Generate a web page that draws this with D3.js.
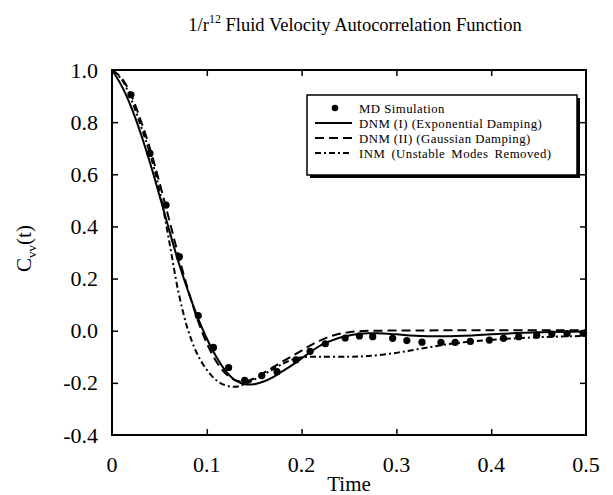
<!DOCTYPE html>
<html>
<head>
<meta charset="utf-8">
<script src="https://cdn.jsdelivr.net/npm/d3@7"></script>
<style>
  html, body { margin: 0; padding: 0; background: #fff; }
  svg { display: block; font-family: "Liberation Serif", "Times New Roman", serif; }
</style>
</head>
<body>
<svg id="chart" width="613" height="495"></svg>
<script>
// ---- data ----
const mdTime = [0, 0.020, 0.040, 0.057, 0.071, 0.091, 0.107, 0.123, 0.140, 0.158, 0.174, 0.194, 0.209, 0.225, 0.246, 0.261, 0.275, 0.296, 0.311, 0.327, 0.347, 0.362, 0.378, 0.398, 0.413, 0.429, 0.448, 0.464, 0.480, 0.497];
const mdValue = [1.0, 0.905, 0.68, 0.482, 0.284, 0.058, -0.064, -0.141, -0.19, -0.172, -0.157, -0.112, -0.079, -0.05, -0.028, -0.02, -0.023, -0.029, -0.038, -0.044, -0.045, -0.045, -0.041, -0.036, -0.029, -0.023, -0.017, -0.013, -0.011, -0.01];

const dnm1Time = [0, 0.01, 0.02, 0.03, 0.04, 0.05, 0.06, 0.07, 0.08, 0.09, 0.10, 0.11, 0.12, 0.13, 0.14, 0.15, 0.16, 0.17, 0.18, 0.19, 0.20, 0.21, 0.22, 0.23, 0.24, 0.25, 0.26, 0.27, 0.28, 0.30, 0.32, 0.35, 0.38, 0.41, 0.45, 0.50];
const dnm1Value = [1.0, 0.94, 0.86, 0.76, 0.645, 0.52, 0.39, 0.265, 0.155, 0.055, -0.03, -0.10, -0.155, -0.19, -0.205, -0.205, -0.195, -0.178, -0.155, -0.132, -0.106, -0.08, -0.056, -0.04, -0.027, -0.018, -0.013, -0.01, -0.01, -0.014, -0.019, -0.021, -0.018, -0.012, -0.006, -0.003];

const dnm2Time = [0, 0.01, 0.02, 0.03, 0.04, 0.05, 0.06, 0.07, 0.08, 0.09, 0.10, 0.11, 0.12, 0.13, 0.14, 0.15, 0.16, 0.17, 0.18, 0.19, 0.20, 0.21, 0.22, 0.23, 0.24, 0.25, 0.26, 0.28, 0.32, 0.40, 0.50];
const dnm2Value = [1.0, 0.97, 0.905, 0.81, 0.70, 0.57, 0.43, 0.29, 0.16, 0.045, -0.048, -0.118, -0.165, -0.19, -0.195, -0.183, -0.162, -0.14, -0.118, -0.097, -0.076, -0.055, -0.037, -0.022, -0.012, -0.006, -0.002, 0.0, 0.001, 0.002, 0.002];

const inmTime = [0, 0.01, 0.02, 0.03, 0.04, 0.05, 0.06, 0.07, 0.08, 0.09, 0.10, 0.11, 0.12, 0.13, 0.14, 0.15, 0.16, 0.17, 0.18, 0.19, 0.20, 0.22, 0.25, 0.27, 0.30, 0.33, 0.36, 0.40, 0.45, 0.50];
const inmValue = [1.0, 0.965, 0.89, 0.79, 0.68, 0.54, 0.35, 0.15, 0.005, -0.09, -0.15, -0.19, -0.21, -0.215, -0.205, -0.188, -0.168, -0.147, -0.127, -0.111, -0.102, -0.1, -0.1, -0.097, -0.085, -0.066, -0.049, -0.035, -0.025, -0.02];

const xTicks = [0, 0.1, 0.2, 0.3, 0.4, 0.5];
const xTickLabels = ["0", "0.1", "0.2", "0.3", "0.4", "0.5"];
const yTicks = [-0.4, -0.2, 0.0, 0.2, 0.4, 0.6, 0.8, 1.0];
const yTickLabels = ["-0.4", "-0.2", "0.0", "0.2", "0.4", "0.6", "0.8", "1.0"];

const legendLabels = ["MD Simulation", "DNM (I) (Exponential Damping)", "DNM (II) (Gaussian Damping)", "INM (Unstable Modes Removed)"];

// ---- layout ----
const L = 112, R = 586, T = 70, B = 435;
const svg = d3.select("#chart");
const x = d3.scaleLinear().domain([0, 0.5]).range([L, R]);
const y = d3.scaleLinear().domain([-0.4, 1.0]).range([B, T]);

// title
const title = svg.append("text").attr("x", 355).attr("y", 31)
  .attr("text-anchor", "middle").attr("font-size", 18.5).attr("fill", "#000");
title.append("tspan").text("1/r");
title.append("tspan").attr("dy", -8).attr("font-size", 12).text("12");
title.append("tspan").attr("dy", 8).text(" Fluid Velocity Autocorrelation Function");

// axes with inward ticks
const tickLen = 6;
const inner = xTicks.slice(1, -1);
const innerY = yTicks.slice(1, -1);
const gb = svg.append("g").attr("transform", `translate(0,${B})`)
  .call(d3.axisBottom(x).tickValues(inner).tickSizeInner(-tickLen).tickSizeOuter(0).tickFormat(""));
const gt = svg.append("g").attr("transform", `translate(0,${T})`)
  .call(d3.axisTop(x).tickValues(inner).tickSizeInner(-tickLen).tickSizeOuter(0).tickFormat(""));
const gl = svg.append("g").attr("transform", `translate(${L},0)`)
  .call(d3.axisLeft(y).tickValues(innerY).tickSizeInner(-tickLen).tickSizeOuter(0).tickFormat(""));
const gr = svg.append("g").attr("transform", `translate(${R},0)`)
  .call(d3.axisRight(y).tickValues(innerY).tickSizeInner(-tickLen).tickSizeOuter(0).tickFormat(""));
[gb, gt, gl, gr].forEach(g => {
  g.selectAll(".domain").remove();
  g.selectAll("line").attr("stroke", "#000").attr("stroke-width", 1.5);
});

// tick labels
svg.append("g").selectAll("text").data(xTicks).join("text")
  .attr("x", d => x(d)).attr("y", 472).attr("text-anchor", "middle")
  .attr("font-size", 22).text((d, i) => xTickLabels[i]);
svg.append("g").selectAll("text").data(yTicks).join("text")
  .attr("x", L - 14).attr("y", d => y(d) + 7.5).attr("text-anchor", "end")
  .attr("font-size", 22).text((d, i) => yTickLabels[i]);

// axis titles
svg.append("text").attr("x", (L + R) / 2).attr("y", 491).attr("text-anchor", "middle")
  .attr("font-size", 21).text("Time");
const yl = svg.append("text").attr("transform", `translate(31,${(T + B) / 2 - 4}) rotate(-90)`)
  .attr("text-anchor", "middle").attr("font-size", 21);
yl.append("tspan").text("C");
yl.append("tspan").attr("dy", 5).attr("font-size", 13).text("vv");
yl.append("tspan").attr("dy", -5).text("(t)");

// curves
const line = d3.line().x(d => x(d[0])).y(d => y(d[1])).curve(d3.curveCatmullRom.alpha(0.5));
const clip = svg.append("clipPath").attr("id", "clip").append("rect")
  .attr("x", L).attr("y", T).attr("width", R - L).attr("height", B - T);
const plot = svg.append("g").attr("clip-path", "url(#clip)");
const series = [
  { t: dnm1Time, v: dnm1Value, dash: null },
  { t: dnm2Time, v: dnm2Value, dash: "9,5" },
  { t: inmTime, v: inmValue, dash: "6,3,2,3" }
];
series.forEach(s => {
  plot.append("path").datum(s.t.map((t, i) => [t, s.v[i]]))
    .attr("d", line).attr("fill", "none").attr("stroke", "#000")
    .attr("stroke-width", 2).attr("stroke-dasharray", s.dash);
});
plot.selectAll("circle.md").data(mdTime.map((t, i) => [t, mdValue[i]])).join("circle")
  .attr("class", "md").attr("cx", d => x(d[0])).attr("cy", d => y(d[1])).attr("r", 3.6).attr("fill", "#000");

// frame
svg.append("rect").attr("x", L).attr("y", T).attr("width", R - L).attr("height", B - T)
  .attr("fill", "none").attr("stroke", "#000").attr("stroke-width", 2);

// legend
const lg = svg.append("g");
const lx = 307, ly = 95, lw = 270, lh = 80;
lg.append("rect").attr("x", lx + 3).attr("y", ly + 3).attr("width", lw).attr("height", lh).attr("fill", "#000");
lg.append("rect").attr("x", lx).attr("y", ly).attr("width", lw).attr("height", lh)
  .attr("fill", "#fff").attr("stroke", "#000").attr("stroke-width", 1.5);
const rows = [108, 123, 138, 153];
const dashes = [null, null, "9,5", "6,3,2,3"];
const wordSp = [0, 0, 0, 2.5];
legendLabels.forEach((lab, i) => {
  const yy = rows[i];
  if (i === 0) {
    lg.append("circle").attr("cx", 335).attr("cy", yy).attr("r", 3.3).attr("fill", "#000");
  } else {
    lg.append("line").attr("x1", 315).attr("x2", 352).attr("y1", yy).attr("y2", yy)
      .attr("stroke", "#000").attr("stroke-width", 2).attr("stroke-dasharray", dashes[i]);
  }
  lg.append("text").attr("x", 359).attr("y", yy + 4.5).attr("font-size", 12.8)
    .attr("letter-spacing", 0.45).attr("word-spacing", wordSp[i]).text(lab);
});
</script>
</body>
</html>
